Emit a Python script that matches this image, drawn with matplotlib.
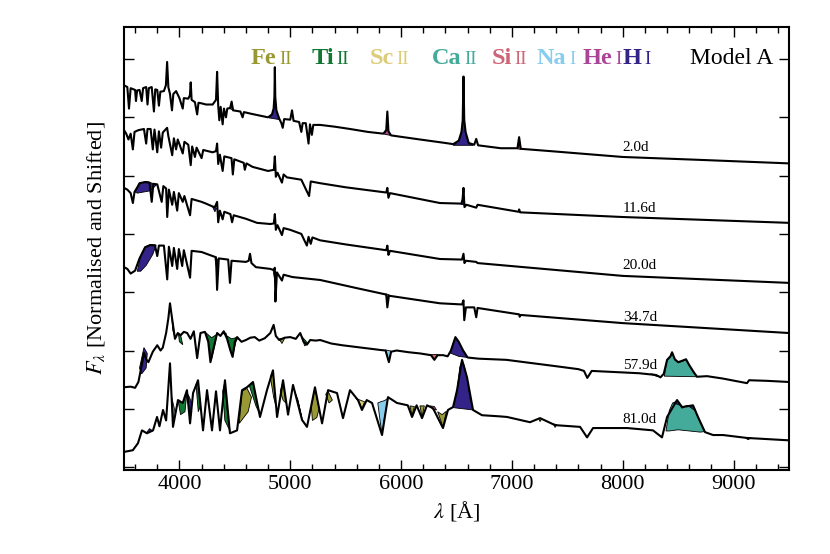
import numpy as np
import matplotlib
matplotlib.use("Agg")
import matplotlib.pyplot as plt
from matplotlib.ticker import MultipleLocator

plt.rcParams['font.family'] = ['Liberation Serif', 'DejaVu Serif']
plt.rcParams['mathtext.fontset'] = 'stix'

# ions shown in the legend and their fill colours
ion_names = ["Fe II", "Ti II", "Sc II", "Ca II", "Si II", "Na I", "He I", "H I"]
ion_colors = ["#999933", "#117733", "#DDCC77", "#44AA99", "#CC6677", "#88CCEE", "#AA4499", "#332288"]

epochs = ["2.0d", "11.6d", "20.0d", "34.7d", "57.9d", "81.0d"]
epoch_label_y = [5.49, 4.44, 3.46, 2.57, 1.75, 0.81]
epoch_label_wl = 8000

# spectra (wavelength [A], normalised + shifted flux)
spec_2d = [
    (3500, 6.55), (3530, 6.52), (3545, 6.15), (3560, 6.50), (3600, 6.47), (3608, 6.28), (3618, 6.46),
    (3640, 6.47), (3660, 6.28), (3672, 6.50), (3700, 6.52), (3712, 6.22), (3724, 6.50), (3750, 6.52),
    (3770, 6.10), (3782, 6.48), (3800, 6.47), (3815, 6.20), (3828, 6.44), (3860, 6.45), (3878, 6.55),
    (3889, 6.95), (3900, 6.52), (3915, 6.40), (3933, 6.12), (3945, 6.40), (3970, 6.45), (4000, 6.33),
    (4030, 6.15), (4040, 6.33), (4080, 6.32), (4095, 6.38), (4102, 6.60), (4110, 6.30), (4140, 6.26),
    (4160, 6.05), (4172, 6.25), (4200, 6.24), (4240, 6.22), (4300, 6.22), (4330, 6.30), (4340, 6.78),
    (4350, 6.20), (4360, 5.95), (4372, 6.18), (4390, 5.88), (4402, 6.15), (4420, 6.00), (4432, 6.15),
    (4458, 6.16), (4471, 6.27), (4484, 6.12), (4550, 6.10), (4570, 6.00), (4582, 6.09), (4650, 6.06),
    (4700, 6.04), (4800, 6.00), (4835, 6.05), (4850, 6.15), (4857, 6.35), (4861, 6.86), (4865, 6.35),
    (4875, 6.12), (4900, 5.98), (4920, 5.90), (4932, 5.82), (4945, 5.97), (5000, 5.96), (5016, 6.12),
    (5030, 5.94), (5080, 5.92), (5100, 5.75), (5112, 5.90), (5140, 5.90), (5165, 5.55), (5178, 5.88),
    (5195, 5.70), (5208, 5.87), (5270, 5.87), (5400, 5.84), (5540, 5.80), (5700, 5.75), (5840, 5.72),
    (5866, 5.78), (5876, 6.10), (5886, 5.76), (5910, 5.69), (6170, 5.62), (6400, 5.56), (6470, 5.54),
    (6520, 5.60), (6545, 5.75), (6556, 5.95), (6563, 6.70), (6570, 5.95), (6582, 5.75), (6610, 5.56),
    (6660, 5.53), (6678, 5.63), (6695, 5.52), (6900, 5.47), (7050, 5.47), (7065, 5.66), (7080, 5.46),
    (7350, 5.42), (8000, 5.32), (8700, 5.27), (9500, 5.21),
]
spec_11d = [
    (3500, 5.78), (3520, 5.72), (3540, 5.62), (3560, 5.72), (3580, 5.45), (3595, 5.75), (3630, 5.78),
    (3680, 5.80), (3700, 5.55), (3712, 5.80), (3740, 5.80), (3760, 5.45), (3775, 5.79), (3800, 5.40),
    (3815, 5.76), (3835, 5.48), (3850, 5.74), (3889, 5.82), (3900, 5.68), (3935, 5.35), (3950, 5.64),
    (3970, 5.45), (3985, 5.62), (4030, 5.38), (4045, 5.58), (4080, 5.53), (4102, 5.18), (4115, 5.50),
    (4140, 5.32), (4155, 5.48), (4200, 5.30), (4215, 5.44), (4300, 5.40), (4330, 5.42), (4340, 5.55),
    (4350, 5.20), (4365, 5.36), (4390, 5.08), (4405, 5.33), (4470, 5.30), (4482, 5.02), (4495, 5.28),
    (4580, 5.22), (4590, 5.10), (4605, 5.21), (4660, 5.15), (4800, 5.08), (4852, 5.10), (4861, 5.33),
    (4870, 4.98), (4885, 5.05), (4925, 4.88), (4940, 5.02), (4970, 4.97), (5100, 4.93), (5170, 4.65),
    (5185, 4.90), (5270, 4.87), (5500, 4.80), (5866, 4.71), (5876, 4.79), (5886, 4.62), (5900, 4.70),
    (6350, 4.53), (6545, 4.52), (6555, 4.60), (6563, 4.79), (6572, 4.46), (6590, 4.50), (6678, 4.45),
    (6690, 4.50), (7060, 4.38), (7065, 4.42), (7075, 4.37), (8000, 4.29), (9500, 4.19),
]
spec_20d = [
    (3500, 4.79), (3530, 4.76), (3560, 4.70), (3580, 4.53), (3595, 4.72), (3620, 4.80), (3640, 4.87),
    (3690, 4.89), (3730, 4.88), (3750, 4.55), (3765, 4.86), (3800, 4.85), (3840, 4.55), (3855, 4.82),
    (3880, 4.78), (3890, 4.29), (3905, 4.76), (3935, 4.50), (3950, 4.72), (3980, 4.40), (3995, 4.70),
    (4030, 4.55), (4045, 4.65), (4096, 4.32), (4110, 4.60), (4200, 4.55), (4240, 4.52), (4300, 4.47),
    (4320, 4.46), (4340, 4.55), (4350, 4.20), (4365, 4.40), (4390, 4.25), (4405, 4.38), (4460, 4.34),
    (4475, 4.20), (4490, 4.32), (4600, 4.26), (4700, 4.19), (4820, 4.17), (4852, 4.18), (4861, 4.34),
    (4870, 4.07), (4885, 4.15), (4925, 3.98), (4940, 4.10), (5000, 4.07), (5100, 4.00), (5150, 3.80),
    (5165, 3.95), (5185, 3.83), (5200, 3.94), (5270, 3.89), (5500, 3.82), (5866, 3.72), (5876, 3.80),
    (5886, 3.64), (5900, 3.71), (6350, 3.57), (6550, 3.56), (6563, 3.66), (6572, 3.50), (6585, 3.54),
    (6678, 3.52), (6690, 3.50), (8000, 3.28), (9500, 3.16),
]
spec_34d = [
    (3500, 3.43), (3530, 3.40), (3560, 3.32), (3600, 3.37), (3640, 3.58), (3690, 3.77), (3740, 3.81),
    (3780, 3.80), (3800, 3.62), (3815, 3.80), (3860, 3.80), (3890, 3.22), (3905, 3.78), (3935, 3.45),
    (3950, 3.76), (3980, 3.40), (3995, 3.74), (4025, 3.45), (4040, 3.72), (4096, 3.25), (4110, 3.71),
    (4200, 3.69), (4300, 3.62), (4330, 3.60), (4340, 3.04), (4355, 3.58), (4440, 3.56), (4456, 3.16),
    (4470, 3.54), (4600, 3.52), (4625, 3.54), (4637, 3.66), (4650, 3.50), (4690, 3.43), (4820, 3.40),
    (4852, 3.38), (4861, 3.42), (4866, 2.84), (4880, 3.34), (4925, 3.20), (4940, 3.30), (5020, 3.26),
    (5270, 3.21), (5600, 3.07), (5866, 2.96), (5876, 2.74), (5890, 2.94), (6350, 2.81), (6550, 2.79),
    (6563, 2.86), (6570, 2.52), (6585, 2.74), (6660, 2.74), (6678, 2.57), (6690, 2.73), (7065, 2.62),
    (7070, 2.58), (7080, 2.61), (8000, 2.47), (9500, 2.30),
]
spec_57d = [
    (3500, 1.37), (3560, 1.38), (3600, 1.36), (3630, 1.46), (3660, 1.75), (3680, 1.96), (3700, 1.85),
    (3720, 1.80), (3760, 1.98), (3800, 2.09), (3830, 2.00), (3850, 2.05), (3880, 2.30), (3900, 2.55),
    (3915, 2.81), (3930, 2.60), (3945, 2.40), (3960, 2.20), (3985, 2.30), (4010, 2.26), (4040, 2.32),
    (4070, 2.30), (4100, 2.20), (4130, 2.33), (4160, 1.87), (4190, 2.30), (4230, 2.32), (4260, 2.15),
    (4280, 1.80), (4310, 2.05), (4340, 2.30), (4370, 2.25), (4400, 2.33), (4430, 2.20), (4460, 2.00),
    (4480, 1.89), (4500, 2.15), (4520, 2.23), (4560, 2.15), (4600, 2.18), (4640, 2.22), (4680, 2.23),
    (4720, 2.17), (4770, 2.21), (4820, 2.30), (4850, 2.44), (4870, 2.25), (4900, 2.18), (4950, 2.22),
    (5000, 2.23), (5050, 2.20), (5090, 2.30), (5120, 2.15), (5150, 2.10), (5180, 2.18), (5230, 2.17),
    (5270, 2.18), (5370, 2.12), (5470, 2.09), (5640, 2.05), (5810, 2.01), (5860, 2.00), (5890, 1.80),
    (5910, 1.98), (5960, 2.00), (6070, 1.97), (6170, 1.95), (6270, 1.92), (6300, 1.84), (6330, 1.92),
    (6380, 1.92), (6420, 1.90), (6450, 2.00), (6490, 2.23), (6520, 2.15), (6560, 2.00), (6600, 1.88),
    (6700, 1.86), (6950, 1.84), (7400, 1.73), (7600, 1.68), (7650, 1.65), (7680, 1.53), (7720, 1.65),
    (8150, 1.61), (8300, 1.58), (8340, 1.54), (8370, 1.60), (8400, 1.84), (8430, 1.90), (8445, 1.97),
    (8470, 1.85), (8500, 1.80), (8530, 1.82), (8571, 1.85), (8600, 1.75), (8640, 1.63), (8670, 1.55),
    (8760, 1.56), (8900, 1.52), (9121, 1.44), (9140, 1.49), (9300, 1.48), (9500, 1.46),
]
spec_81d = [
    (3500, 0.26), (3580, 0.29), (3626, 0.41), (3662, 0.63), (3707, 0.58), (3762, 0.63), (3798, 0.86),
    (3820, 0.70), (3852, 0.98), (3880, 0.80), (3915, 1.78), (3942, 0.69), (3987, 1.15), (4030, 1.10),
    (4068, 1.32), (4096, 0.75), (4123, 1.27), (4168, 1.49), (4213, 0.63), (4249, 1.32), (4294, 0.63),
    (4330, 1.30), (4366, 0.63), (4411, 1.49), (4456, 0.58), (4520, 0.63), (4565, 1.32), (4610, 1.37),
    (4664, 1.46), (4727, 0.86), (4790, 1.32), (4844, 1.66), (4881, 0.86), (4935, 1.49), (4980, 0.90),
    (5025, 1.41), (5106, 0.81), (5151, 0.69), (5223, 1.37), (5287, 0.75), (5341, 1.32), (5422, 1.27),
    (5476, 0.84), (5539, 1.32), (5611, 1.15), (5647, 0.98), (5690, 1.15), (5738, 1.10), (5828, 0.55),
    (5882, 1.20), (5963, 1.10), (6060, 1.06), (6099, 0.86), (6140, 1.06), (6189, 0.84), (6234, 1.06),
    (6288, 1.01), (6378, 0.67), (6423, 0.98), (6469, 1.03), (6505, 1.32), (6550, 1.84), (6595, 1.54),
    (6649, 0.98), (6730, 0.89), (6893, 0.87), (6956, 0.86), (7163, 0.77), (7254, 0.84), (7389, 0.72),
    (7615, 0.69), (7678, 0.51), (7732, 0.67), (8039, 0.67), (8273, 0.63), (8354, 0.51), (8400, 0.86),
    (8490, 1.15), (8535, 1.03), (8634, 1.06), (8679, 0.86), (8742, 0.60), (8815, 0.55), (8905, 0.55),
    (9121, 0.50), (9491, 0.46),
]

# coloured contributions of single ions (polygon outlines)
fills_2d = [
    ("H I", [(4810, 5.99), (4835, 6.04), (4850, 6.13), (4857, 6.30), (4861, 6.35), (4865, 6.30), (4875, 6.10), (4905, 5.96)]),
    ("H I", [(6470, 5.52), (6520, 5.59), (6545, 5.74), (6556, 5.92), (6563, 5.98), (6570, 5.92), (6582, 5.74), (6610, 5.55), (6650, 5.52)]),
    ("He I", [(4455, 6.15), (4471, 6.25), (4487, 6.12)]),
    ("He I", [(5850, 5.71), (5866, 5.78), (5876, 5.92), (5886, 5.76), (5905, 5.69)]),
    ("He I", [(7050, 5.46), (7065, 5.55), (7080, 5.45)]),
]
fills_11d = [
    ("H I", [(6540, 4.51), (6555, 4.58), (6563, 4.63), (6570, 4.53), (6585, 4.49)]),
]
fills_20d = [
    ("H I", [(3600, 4.72), (3630, 4.82), (3660, 4.88), (3700, 4.90), (3740, 4.88), (3790, 4.84),
             (3740, 4.74), (3680, 4.72), (3620, 4.70)]),
    ("H I", [(4300, 4.46), (4320, 4.38), (4335, 4.44)]),
]
fills_34d = [
    ("H I", [(3620, 3.36), (3650, 3.62), (3690, 3.78), (3740, 3.82), (3790, 3.81), (3760, 3.65),
             (3700, 3.46), (3650, 3.36)]),
    ("H I", [(4320, 3.58), (4335, 3.42), (4350, 3.56)]),
    ("H I", [(4845, 3.38), (4856, 3.25), (4866, 3.36)]),
    ("He I", [(5860, 2.97), (5876, 2.88), (5890, 2.96)]),
]
fills_57d = [
    ("H I", [(3640, 1.70), (3680, 2.05), (3710, 1.95), (3700, 1.70), (3660, 1.60)]),
    ("Ca II", [(3930, 2.60), (3945, 2.42), (3955, 2.25), (3940, 2.35)]),
    ("Ti II", [(3990, 2.30), (4010, 2.27), (4030, 2.10), (4000, 2.15)]),
    ("Ti II", [(4230, 2.32), (4260, 2.18), (4290, 1.85), (4320, 2.10), (4340, 2.28), (4290, 2.22)]),
    ("Ti II", [(4390, 2.30), (4420, 2.30), (4460, 2.00), (4480, 1.89), (4510, 2.15), (4530, 2.23), (4470, 2.20)]),
    ("Fe II", [(4900, 2.20), (4925, 2.12), (4950, 2.21)]),
    ("Ti II", [(5100, 2.25), (5130, 2.08), (5160, 2.12)]),
    ("Na I", [(5860, 2.01), (5890, 1.80), (5910, 1.99)]),
    ("Si II", [(6270, 1.93), (6300, 1.84), (6330, 1.93)]),
    ("H I", [(6440, 1.96), (6470, 2.12), (6490, 2.22), (6520, 2.14), (6560, 1.99), (6600, 1.88), (6520, 1.90)]),
    ("H I", [(8250, 1.60), (8300, 1.56), (8340, 1.55), (8290, 1.59)]),
    ("Ca II", [(8375, 1.56), (8400, 1.83), (8430, 1.89), (8445, 1.96), (8470, 1.84), (8500, 1.79), (8530, 1.81),
               (8571, 1.84), (8600, 1.74), (8640, 1.62), (8670, 1.55)]),
]
fills_81d = [
    ("H I", [(3700, 0.58), (3730, 0.66), (3760, 0.62)]),
    ("Ca II", [(3930, 1.20), (3942, 0.72), (3955, 1.00)]),
    ("Ti II", [(3990, 1.12), (4030, 1.10), (4068, 1.28), (4050, 0.95), (4010, 0.90)]),
    ("H I", [(4075, 1.25), (4096, 0.78), (4110, 1.10), (4090, 1.20)]),
    ("Ti II", [(4150, 1.42), (4168, 1.47), (4190, 1.05), (4170, 0.95)]),
    ("Ti II", [(4390, 1.30), (4411, 1.47), (4430, 1.00), (4456, 0.62), (4410, 0.80)]),
    ("Fe II", [(4540, 0.75), (4565, 1.30), (4610, 1.35), (4650, 1.20), (4620, 0.95)]),
    ("Ti II", [(4630, 1.40), (4664, 1.44), (4700, 1.10), (4727, 0.90), (4690, 1.05)]),
    ("Fe II", [(4820, 1.55), (4844, 1.64), (4870, 1.05), (4850, 1.20)]),
    ("Fe II", [(4910, 1.30), (4935, 1.47), (4960, 1.10), (4935, 1.15)]),
    ("Ti II", [(5040, 1.30), (5080, 1.05), (5106, 0.83), (5070, 1.15)]),
    ("Fe II", [(5190, 1.05), (5223, 1.35), (5260, 1.00), (5240, 0.85), (5200, 0.80)]),
    ("Fe II", [(5320, 1.25), (5341, 1.30), (5380, 1.15), (5350, 1.10)]),
    ("Sc II", [(5590, 1.18), (5620, 1.13), (5647, 1.00), (5670, 1.12)]),
    ("Na I", [(5790, 1.10), (5810, 0.80), (5828, 0.57), (5850, 0.85), (5882, 1.18), (5850, 1.14), (5815, 1.12)]),
    ("Fe II", [(6080, 1.05), (6099, 0.88), (6120, 1.04)]),
    ("Fe II", [(6170, 1.05), (6189, 0.86), (6210, 1.05)]),
    ("Si II", [(6260, 1.05), (6288, 0.99), (6320, 0.98), (6300, 1.04)]),
    ("Fe II", [(6330, 0.95), (6378, 0.69), (6410, 0.96), (6370, 0.90)]),
    ("H I", [(6470, 1.02), (6505, 1.31), (6530, 1.72), (6550, 1.83), (6570, 1.74), (6595, 1.53), (6620, 1.20),
             (6650, 0.98), (6560, 1.00)]),
    ("Fe II", [(7240, 0.84), (7254, 0.78), (7270, 0.83)]),
    ("Fe II", [(7375, 0.74), (7389, 0.68), (7405, 0.73)]),
    ("Ca II", [(8390, 0.62), (8420, 0.97), (8450, 1.10), (8490, 1.13), (8535, 1.01), (8580, 1.06), (8634, 1.04),
               (8679, 0.85), (8740, 0.61), (8700, 0.60), (8600, 0.62), (8500, 0.64), (8420, 0.62)]),
    ("H I", [(8460, 1.09), (8490, 1.15), (8520, 1.06), (8490, 1.08)]),
    ("H I", [(8600, 1.04), (8634, 1.06), (8660, 0.96), (8630, 1.00)]),
    ("H I", [(9100, 0.51), (9130, 0.47), (9160, 0.50)]),
]

spectra = [spec_2d, spec_11d, spec_20d, spec_34d, spec_57d, spec_81d]
fill_sets = [fills_2d, fills_11d, fills_20d, fills_34d, fills_57d, fills_81d]
color_of = dict(zip(ion_names, ion_colors))

fig = plt.figure(figsize=(8.3, 5.54), dpi=100)
ax = fig.add_axes([0.1494, 0.1516, 0.8012, 0.7997])

for spec, fills in zip(spectra, fill_sets):
    for ion, pts in fills:
        p = np.array(pts)
        ax.fill(p[:, 0], p[:, 1], facecolor=color_of[ion], edgecolor='k', lw=0.6, zorder=2)
    s = np.array(spec)
    ax.plot(s[:, 0], s[:, 1], color='k', lw=1.5, zorder=3)

for lab, y in zip(epochs, epoch_label_y):
    ax.text(epoch_label_wl, y, lab, fontsize=11, ha='left', va='center', zorder=4)

ax.set_xlim(3500, 9500)
ax.set_ylim(-0.05, 7.55)
ax.xaxis.set_major_locator(MultipleLocator(1000))
ax.xaxis.set_minor_locator(MultipleLocator(200))
ax.yaxis.set_major_locator(MultipleLocator(1))
ax.tick_params(which='both', direction='in', top=True, right=True, width=1.0)
ax.tick_params(which='major', length=7, labelsize=16)
ax.tick_params(which='minor', length=4)
ax.tick_params(axis='y', labelleft=False)
for sp in ax.spines.values():
    sp.set_linewidth(1.5)

ax.set_xlabel(r"$\lambda$ [Å]", fontsize=16, labelpad=4)
ax.set_ylabel(r"$F_\lambda$ [Normalised and Shifted]", fontsize=16, labelpad=12)

# legend of ions along the top: bold element, smaller ionisation stage on same baseline
legend_x = [0.191, 0.282, 0.369, 0.463, 0.553, 0.621, 0.690, 0.750]
legend_base = 0.917
fig.canvas.draw()
renderer = fig.canvas.get_renderer()
to_axes = ax.transAxes.inverted()
for name, col, xf in zip(ion_names, ion_colors, legend_x):
    sym, stage = name.split()
    t = ax.text(xf, legend_base, sym, transform=ax.transAxes, color=col, fontsize=17.5,
                fontweight='bold', ha='left', va='baseline')
    bb = t.get_window_extent(renderer)
    x_end = to_axes.transform((bb.x1, bb.y0))[0]
    ax.text(x_end + 0.004, legend_base, stage, transform=ax.transAxes, color=col,
            fontsize=13.5, ha='left', va='baseline')
ax.text(0.851, legend_base, "Model A", transform=ax.transAxes, fontsize=17, ha='left', va='baseline')

fig.savefig("out.png", dpi=100)
